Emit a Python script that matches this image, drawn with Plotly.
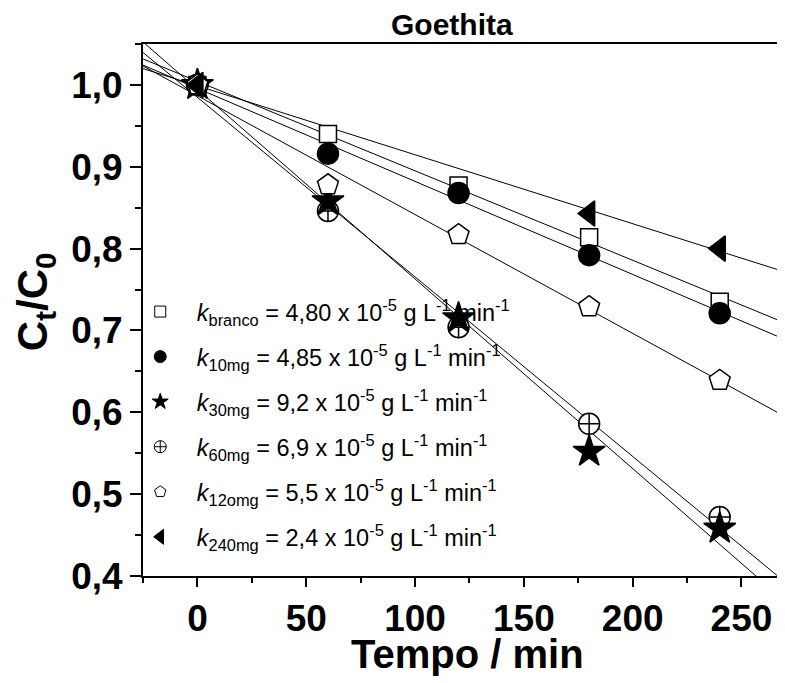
import numpy as np
import plotly.graph_objects as go

# ---- data ----
tempo = [0, 60, 120, 180, 240]
branco = [1.000, 0.940, 0.877, 0.814, 0.735]
mg10 = [1.000, 0.916, 0.868, 0.792, 0.721]
mg30 = [1.000, 0.858, 0.715, 0.552, 0.458]
mg60 = [1.000, 0.846, 0.704, 0.586, 0.472]
mg120 = [1.000, 0.878, 0.817, 0.729, 0.639]
mg240 = [1.000, None, None, 0.843, 0.800]

legend_names = [
    "<i>k</i><sub>branco</sub> = 4,80 x 10<sup>-5</sup> g L<sup>-1</sup> min<sup>-1</sup>",
    "<i>k</i><sub>10mg</sub> = 4,85 x 10<sup>-5</sup> g L<sup>-1</sup> min<sup>-1</sup>",
    "<i>k</i><sub>30mg</sub> = 9,2 x 10<sup>-5</sup> g L<sup>-1</sup> min<sup>-1</sup>",
    "<i>k</i><sub>60mg</sub> = 6,9 x 10<sup>-5</sup> g L<sup>-1</sup> min<sup>-1</sup>",
    "<i>k</i><sub>12omg</sub> = 5,5 x 10<sup>-5</sup> g L<sup>-1</sup> min<sup>-1</sup>",
    "<i>k</i><sub>240mg</sub> = 2,4 x 10<sup>-5</sup> g L<sup>-1</sup> min<sup>-1</sup>",
]

x_range = [-25, 270]
y_range = [0.4, 1.05]

series = [branco, mg10, mg30, mg60, mg120, mg240]
symbols = ["square", "circle", "star", "circle-cross", "pentagon", "triangle-left"]
fills = ["white", "black", "black", "white", "white", "black"]
sizes = [17, 21, 24, 21, 22, 22]
leg_sizes = [11, 12, 12, 12, 12, 13]
draw_order = [0, 1, 3, 2, 4, 5]

fig = go.Figure()

# fit lines (least squares over each series)
for ys in series:
    xs = np.array([t for t, v in zip(tempo, ys) if v is not None], dtype=float)
    vs = np.array([v for v in ys if v is not None], dtype=float)
    a, b = np.polyfit(xs, vs, 1)
    xf = np.array(x_range, dtype=float)
    fig.add_trace(go.Scatter(x=xf, y=a * xf + b, mode="lines",
                             line=dict(color="black", width=1),
                             showlegend=False, hoverinfo="skip"))

# data markers
for i in draw_order:
    fig.add_trace(go.Scatter(x=tempo, y=series[i], mode="markers",
                             marker=dict(symbol=symbols[i], size=sizes[i], color=fills[i],
                                         line=dict(color="black", width=1.5)),
                             showlegend=False))

# legend entries
for i, (name, sym, sz) in enumerate(zip(legend_names, symbols, leg_sizes)):
    fig.add_trace(go.Scatter(x=[None], y=[None], mode="markers", name=name,
                             legendgroup=f"g{i}",
                             marker=dict(symbol=sym, size=sz, color=fills[i],
                                         line=dict(color="black", width=1))))

font_family = "Liberation Sans, Arial, sans-serif"

fig.update_layout(
    width=777, height=675,
    margin=dict(l=135, r=0, t=36, b=107),
    paper_bgcolor="white", plot_bgcolor="white",
    separators=",.",
    font=dict(family=font_family, color="black"),
    legend=dict(x=-0.030, xanchor="left", y=0.538, yanchor="top",
                bgcolor="rgba(0,0,0,0)", font=dict(size=23.5, family=font_family),
                itemwidth=63, tracegroupgap=11.5, itemsizing="trace"),
    annotations=[
        dict(text="<b>Goethita</b>", x=0.482, y=1.0, xref="paper", yref="paper",
             xanchor="center", yanchor="bottom", yshift=1, showarrow=False,
             font=dict(size=30, family=font_family, color="black")),
        dict(text="<b>Tempo / min</b>", x=0.506, y=-0.146, xref="paper", yref="paper",
             xanchor="center", yanchor="middle", showarrow=False,
             font=dict(size=40, family=font_family, color="black")),
        dict(text="<b>C<sub>t</sub>/C<sub>0</sub></b>", x=-0.168, y=0.515, xref="paper", yref="paper",
             xanchor="center", yanchor="middle", textangle=-90, showarrow=False,
             font=dict(size=42, family=font_family, color="black")),
    ],
)

fig.update_xaxes(
    range=x_range, tick0=0, dtick=50, ticks="outside", ticklen=9, tickwidth=2,
    tickcolor="black", showline=True, linewidth=2, linecolor="black", mirror=True,
    showgrid=False, zeroline=False, automargin=False,
    tickfont=dict(size=37, family=font_family, weight="bold"),
    minor=dict(dtick=25, tick0=0, ticks="outside", ticklen=5, tickwidth=2, tickcolor="black"),
)
fig.update_yaxes(
    range=y_range, tick0=0.4, dtick=0.1, tickformat=".1f", ticks="outside", ticklen=11,
    tickwidth=2, tickcolor="black", showline=True, linewidth=2, linecolor="black",
    showgrid=False, zeroline=False, automargin=False,
    tickfont=dict(size=37, family=font_family, weight="bold"),
    minor=dict(dtick=0.05, tick0=0.4, ticks="outside", ticklen=6, tickwidth=2, tickcolor="black"),
)

fig.write_html("out.html")
